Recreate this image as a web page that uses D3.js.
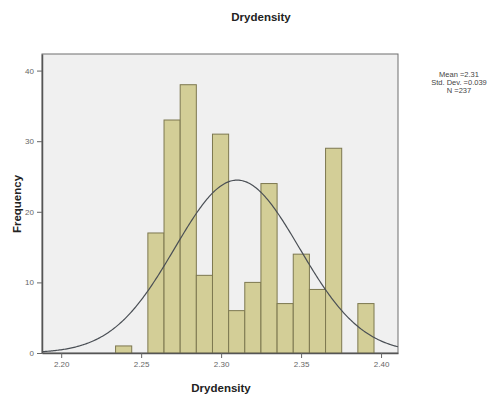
<!DOCTYPE html>
<html>
<head>
<meta charset="utf-8">
<script src="https://cdn.jsdelivr.net/npm/d3@7"></script>
<style>
  body { margin: 0; background: #fff; }
  svg text { font-family: "Liberation Sans", Arial, sans-serif; }
</style>
</head>
<body>
<svg id="chart" width="498" height="403"></svg>
<script>
// Histogram of dry density with a fitted normal curve
const binStart = 2.234;
const binWidth = 0.0101;
const counts = [1, 0, 17, 33, 38, 11, 31, 6, 10, 24, 7, 14, 9, 29, 0, 7];
const xTicks = [2.20, 2.25, 2.30, 2.35, 2.40];
const yTicks = [0, 10, 20, 30, 40];
const statMean = 2.31;
const statSd = 0.039;
const statN = 237;
const legendLines = ["Mean =2.31", "Std. Dev. =0.039", "N =237"];

(function () {
  const svg = d3.select("#chart");
  const plotL = 42, plotR = 398, plotT = 54, plotB = 353;

  const x = d3.scaleLinear().domain([2.188, 2.4106]).range([plotL, plotR]);
  const y = d3.scaleLinear().domain([0, 42.35]).range([plotB, plotT]);

  // plot area
  svg.append("rect")
    .attr("x", plotL).attr("y", plotT)
    .attr("width", plotR - plotL).attr("height", plotB - plotT)
    .attr("fill", "#f0f0f0").attr("stroke", "#6e6e6e").attr("stroke-width", 1);

  // bars
  const bins = counts.map((c, i) => ({ x0: binStart + i * binWidth, x1: binStart + (i + 1) * binWidth, c }));
  svg.append("g").selectAll("rect").data(bins.filter(d => d.c > 0)).join("rect")
    .attr("x", d => x(d.x0))
    .attr("y", d => y(d.c))
    .attr("width", d => x(d.x1) - x(d.x0))
    .attr("height", d => y(0) - y(d.c))
    .attr("fill", "#d3ce97")
    .attr("stroke", "#7d7850")
    .attr("stroke-width", 1);

  // normal curve
  const scaleFactor = statN * binWidth / (statSd * Math.sqrt(2 * Math.PI));
  const [d0, d1] = x.domain();
  const curvePts = d3.range(0, 301).map(i => {
    const v = d0 + (d1 - d0) * i / 300;
    const z = (v - statMean) / statSd;
    return [v, scaleFactor * Math.exp(-0.5 * z * z)];
  });
  svg.append("path")
    .datum(curvePts)
    .attr("fill", "none")
    .attr("stroke", "#4a4f55")
    .attr("stroke-width", 1.2)
    .attr("d", d3.line().x(d => x(d[0])).y(d => y(d[1])));

  // axes
  const xAxis = d3.axisBottom(x).tickValues(xTicks).tickFormat(d3.format(".2f")).tickSize(5).tickSizeOuter(0);
  const gx = svg.append("g").attr("transform", `translate(0,${plotB})`).call(xAxis);
  const yAxis = d3.axisLeft(y).tickValues(yTicks).tickFormat(d3.format("d")).tickSize(5).tickSizeOuter(0);
  const gy = svg.append("g").attr("transform", `translate(${plotL},0)`).call(yAxis);
  [gx, gy].forEach(g => {
    g.select(".domain").attr("stroke", "#555").attr("stroke-width", 1.5);
    g.selectAll(".tick line").attr("stroke", "#666");
    g.selectAll(".tick text").attr("fill", "#666").style("font-size", "8px");
  });

  // titles
  svg.append("text").attr("x", 261).attr("y", 21).attr("text-anchor", "middle")
    .style("font-size", "11.5px").style("font-weight", "bold").attr("fill", "#222").text("Drydensity");
  svg.append("text").attr("x", 221).attr("y", 392).attr("text-anchor", "middle")
    .style("font-size", "11.5px").style("font-weight", "bold").attr("fill", "#222").text("Drydensity");
  svg.append("text").attr("transform", "translate(21,204) rotate(-90)").attr("text-anchor", "middle")
    .style("font-size", "11.5px").style("font-weight", "bold").attr("fill", "#222").text("Frequency");

  // statistics box
  svg.append("g").selectAll("text").data(legendLines).join("text")
    .attr("x", 459).attr("y", (d, i) => 77 + i * 8)
    .attr("text-anchor", "middle")
    .style("font-size", "7.5px").attr("fill", "#444")
    .text(d => d);
})();
</script>
</body>
</html>
